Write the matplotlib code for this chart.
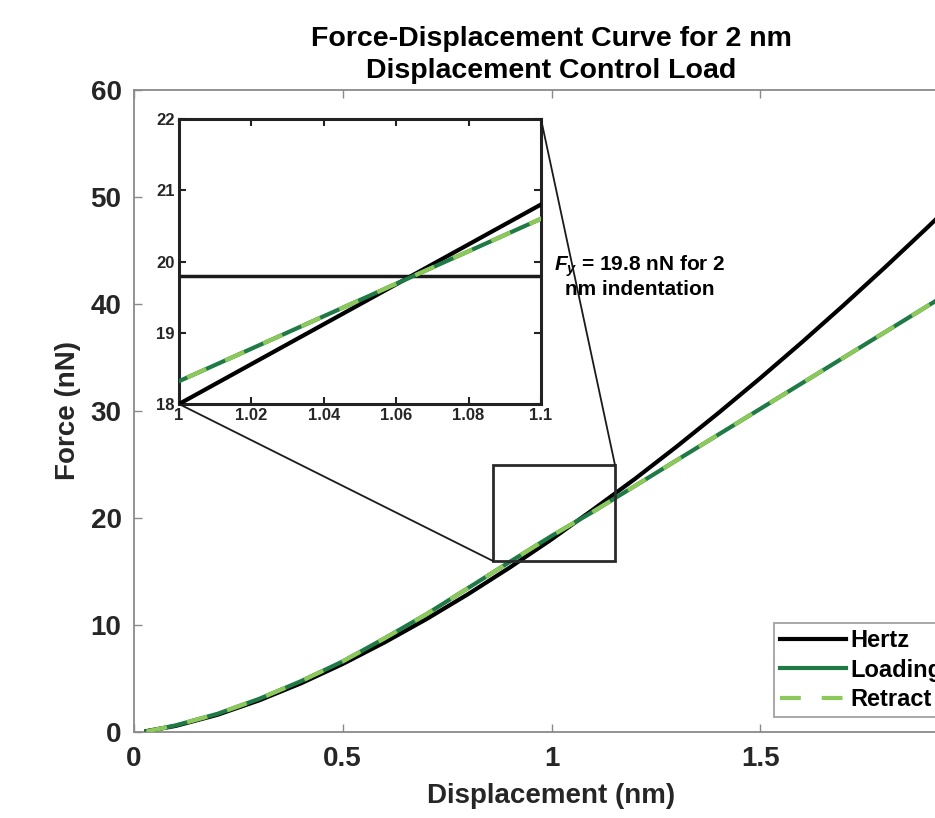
import matplotlib
matplotlib.use("Agg")
import matplotlib.pyplot as plt
from matplotlib.patches import Rectangle, ConnectionPatch

plt.rcParams['font.family'] = ['Liberation Sans', 'DejaVu Sans']
plt.rcParams['font.weight'] = 'bold'
plt.rcParams['mathtext.fontset'] = 'custom'
plt.rcParams['mathtext.rm'] = 'Liberation Sans:bold'
plt.rcParams['mathtext.it'] = 'Liberation Sans:italic:bold'
plt.rcParams['mathtext.bf'] = 'Liberation Sans:bold'

# ---------------- data ----------------
displacement = [0.03, 0.1, 0.2, 0.3, 0.4, 0.5, 0.6, 0.7, 0.8, 0.9, 1.0,
                1.1, 1.2, 1.3, 1.4, 1.5, 1.6, 1.7, 1.8, 1.9, 2.0]
hertz_force = [0.09, 0.57, 1.61, 2.96, 4.55, 6.36, 8.37, 10.54, 12.88, 15.37, 18.0,
               20.8, 23.66, 26.68, 29.82, 33.07, 36.43, 39.9, 43.47, 47.14, 50.9]
loading_force = [0.05, 0.62, 1.7, 3.1, 4.75, 6.6, 8.75, 11.0, 13.45, 15.9, 18.32,
                 20.6, 23.0, 25.4, 27.8, 30.2, 32.6, 35.0, 37.4, 39.8, 42.2]
retract_force = [0.05, 0.62, 1.7, 3.1, 4.75, 6.6, 8.75, 11.0, 13.45, 15.9, 18.32,
                 20.6, 23.0, 25.4, 27.8, 30.2, 32.6, 35.0, 37.4, 39.8, 42.2]
yield_force = 19.8

series_labels = ['Hertz', 'Loading', 'Retract']
main_xticks = [0, 0.5, 1, 1.5, 2]
main_xticklabels = ['0', '0.5', '1', '1.5', '2']
main_yticks = [0, 10, 20, 30, 40, 50, 60]
inset_xticks = [1, 1.02, 1.04, 1.06, 1.08, 1.1]
inset_xticklabels = ['1', '1.02', '1.04', '1.06', '1.08', '1.1']
inset_yticks = [18, 19, 20, 21, 22]
zoom_box = (0.86, 15.98, 1.152, 24.97)  # x0, y0, x1, y1 in data units

# ---------------- styles ----------------
c_hertz = '#000000'
c_load = '#1f7a45'
c_retr = '#8cc85a'
spine_gray = '#8a8a8a'
text_dark = '#262626'

fig = plt.figure(figsize=(9.35, 8.18), dpi=100)
W, H = 935, 818
ax = fig.add_axes([134 / W, (H - 732) / H, (969 - 134) / W, (732 - 90) / H])

ax.plot(displacement, hertz_force, color=c_hertz, lw=3, label=series_labels[0], zorder=3)
ax.plot(displacement, loading_force, color=c_load, lw=3, label=series_labels[1], zorder=4)
ax.plot(displacement, retract_force, color=c_retr, lw=3, dashes=(5, 5),
        label=series_labels[2], zorder=5)

ax.set_xlim(0, 2)
ax.set_ylim(0, 60)
ax.set_xticks(main_xticks)
ax.set_xticklabels(main_xticklabels)
ax.set_yticks(main_yticks)
ax.tick_params(direction='in', length=6, width=1, colors=spine_gray,
               labelcolor=text_dark, labelsize=20, top=True, right=True)
ax.tick_params(axis='x', pad=10)
ax.tick_params(axis='y', pad=9)
for sp in ax.spines.values():
    sp.set_color(spine_gray)
    sp.set_linewidth(1.3)

ax.set_xlabel('Displacement (nm)', fontsize=20, fontweight='bold', color=text_dark, labelpad=8)
ax.set_ylabel('Force (nN)', fontsize=20, fontweight='bold', color=text_dark, labelpad=7)
ax.set_title('Force-Displacement Curve for 2 nm\nDisplacement Control Load',
             fontsize=20.5, fontweight='bold', color='black', pad=9, linespacing=1.25)

# zoom box
x0, y0, x1, y1 = zoom_box
ax.add_patch(Rectangle((x0, y0), x1 - x0, y1 - y0, fill=False, edgecolor='#2a2a2a',
                       lw=2, zorder=6))

# annotation
ax.text(1.212, 42.6, r'$F_y$ = 19.8 nN for 2' + '\nnm indentation', ha='center', va='center',
        fontsize=15, fontweight='bold', color='black', linespacing=1.05, zorder=7)

leg = ax.legend(loc='upper left', bbox_to_anchor=((774 - 134) / (969 - 134), (732 - 623) / 642),
                borderaxespad=0, fontsize=17, frameon=True, fancybox=False,
                edgecolor=spine_gray, handlelength=2.8, handletextpad=0.2,
                labelspacing=0.28, borderpad=0.25)
leg.get_frame().set_linewidth(1.3)
for t in leg.get_texts():
    t.set_fontweight('bold')
    t.set_color('black')

# ---------------- inset ----------------
axin = fig.add_axes([179 / W, (H - 404) / H, (541 - 179) / W, (404 - 119) / H])
axin.plot(displacement, hertz_force, color=c_hertz, lw=3, zorder=3)
axin.plot(displacement, loading_force, color=c_load, lw=3, zorder=4)
axin.plot(displacement, retract_force, color=c_retr, lw=3, dashes=(5, 5), zorder=5)
axin.axhline(yield_force, color='#1a1a1a', lw=2.5, zorder=2)
axin.set_xlim(1, 1.1)
axin.set_ylim(18, 22)
axin.set_xticks(inset_xticks)
axin.set_xticklabels(inset_xticklabels)
axin.set_yticks(inset_yticks)
axin.tick_params(direction='in', length=5, width=1.5, colors='#222222',
                 labelcolor=text_dark, labelsize=12, top=True, right=True, pad=3)
for sp in axin.spines.values():
    sp.set_color('#222222')
    sp.set_linewidth(2.2)

# connector lines
con1 = ConnectionPatch(xyA=(1.1, 22), coordsA=axin.transData,
                       xyB=(x1, y1), coordsB=ax.transData, color='#1a1a1a', lw=1.3)
con2 = ConnectionPatch(xyA=(1.0, 18), coordsA=axin.transData,
                       xyB=(x0, y0), coordsB=ax.transData, color='#1a1a1a', lw=1.3)
fig.add_artist(con1)
fig.add_artist(con2)

fig.savefig('out.png', dpi=100)
